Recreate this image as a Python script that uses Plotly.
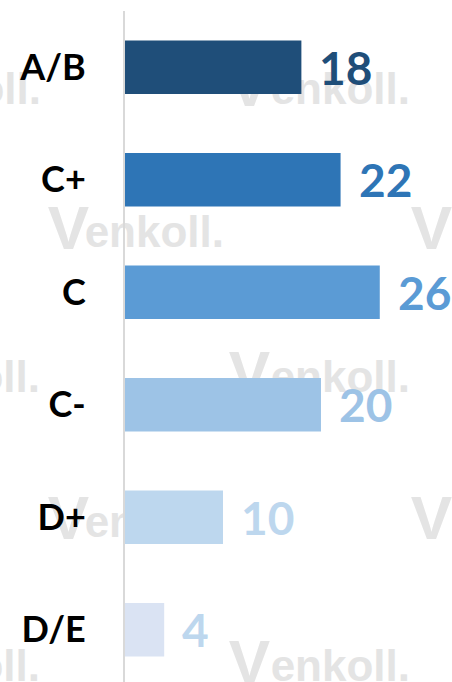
import plotly.graph_objects as go

categories = ["A/B", "C+", "C", "C-", "D+", "D/E"]
values = [18, 22, 26, 20, 10, 4]
bar_colors = ["#1F4E79", "#2E75B6", "#5B9BD5", "#9DC3E6", "#BDD7EE", "#DAE3F3"]
label_colors = ["#1F4E79", "#2E75B6", "#5B9BD5", "#9DC3E6", "#BDD7EE", "#BDD7EE"]

# faint background watermark: text, right edge and baseline in page pixels, font size
wm_text = ["enkoll.", "oll.", "V",
           "enkoll.", "V", "V",
           "enkoll.", "oll.", "V",
           "enkoll.", "V", "V",
           "enkoll.", "oll.", "V"]
wm_right = [413, 44, 273,
            227, 92, 455,
            413, 43, 273,
            227, 92, 455,
            413, 43, 273]
wm_base = [100, 100, 100,
           243, 243, 243,
           388, 388, 388,
           533, 533, 533,
           677, 677, 677]
wm_size = [44, 44, 62,
           44, 62, 62,
           44, 44, 62,
           44, 62, 62,
           44, 44, 62]

FONT = "Lato"
W, H = 452, 682
ML, MT = 125, 11
PW, PH = W - ML, H - MT

fig = go.Figure()

fig.add_trace(go.Bar(
    x=values, y=categories, orientation="h",
    marker=dict(color=bar_colors, line=dict(width=0)),
    width=0.476, showlegend=False, hoverinfo="skip",
))

for v, c, col in zip(values, categories, label_colors):
    fig.add_annotation(
        x=v, y=c, text=str(v),
        showarrow=False, xanchor="left", yanchor="middle", xshift=16,
        font=dict(family=FONT, size=46, color=col, weight="bold"),
    )

# watermark drawn beneath the bars as labelled, invisible shapes
for t, xr, yb, fs in zip(wm_text, wm_right, wm_base, wm_size):
    ym = yb - 0.35 * fs
    x1 = (xr - ML) / PW
    x0 = (xr - 220 - ML) / PW
    yc = (H - ym) / PH
    fig.add_shape(
        type="rect", xref="paper", yref="paper",
        x0=x0, x1=x1, y0=yc - 30 / PH, y1=yc + 30 / PH,
        line=dict(width=0), fillcolor="rgba(0,0,0,0)", layer="below",
        label=dict(text=t, textposition="middle right", padding=0,
                   font=dict(family="Liberation Sans", size=fs,
                             color="#E4E4E4", weight="bold")),
    )

fig.update_layout(
    width=W, height=H,
    margin=dict(l=ML, r=0, t=MT, b=0),
    paper_bgcolor="white", plot_bgcolor="rgba(0,0,0,0)",
    xaxis=dict(range=[0, 33.37], visible=False, showgrid=False,
               zeroline=False, fixedrange=True),
    yaxis=dict(type="category", categoryorder="array",
               categoryarray=categories, range=[5.464, -0.5],
               showline=True, linecolor="#D9D9D9", linewidth=2,
               showgrid=False, zeroline=False, ticks="", fixedrange=True,
               ticklabelstandoff=30,
               tickfont=dict(family=FONT, size=36, color="black", weight="bold")),
)

fig.write_html("out.html", config={"displayModeBar": False},
               post_script="document.body.style.margin='0';document.body.style.overflow='hidden';")
